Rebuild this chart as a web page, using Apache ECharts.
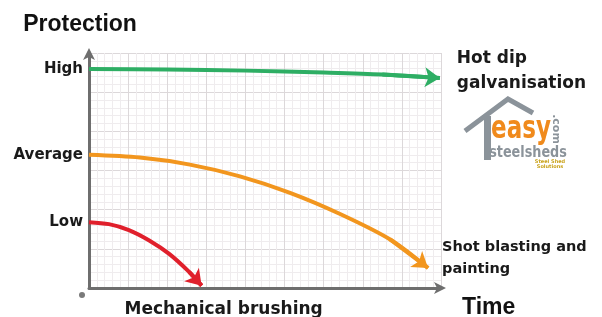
<!DOCTYPE html>
<html>
<head>
<meta charset="utf-8">
<script src="https://cdn.jsdelivr.net/npm/echarts@6/dist/echarts.min.js"></script>
<style>
html, body { margin: 0; padding: 0; background: #fff; }
#chart { width: 602px; height: 317px; }
</style>
</head>
<body>
<div id="chart"></div>
<script>
// protection levels shown on the y axis
var levelNames = ['Low', 'Average', 'High'];
var levelValues = [1.68, 3.40, 5.59];

// curves (x = time, y = protection)
var galvX = [0, 2, 4, 6, 7.5, 8.97];
var galvY = [5.59, 5.58, 5.55, 5.5, 5.45, 5.36];
var paintX = [0, 1.30, 2.58, 3.86, 5.14, 6.42, 7.70, 8.67];
var paintY = [3.40, 3.33, 3.15, 2.85, 2.43, 1.89, 1.24, 0.51];
var brushX = [0, 0.51, 1.02, 1.53, 2.05, 2.56, 2.88];
var brushY = [1.68, 1.63, 1.48, 1.22, 0.87, 0.41, 0.06];

var curveNames = ['Hot dip\ngalvanisation', 'Shot blasting and\npainting', 'Mechanical brushing'];
var curveColors = ['#2eae64', '#f2961e', '#e0202c'];

var labelFont = 'DejaVu Sans';

function pairs(xs, ys) {
  return xs.map(function (x, i) { return [x, ys[i]]; });
}

// smooth curve + arrow head on the last segment
function curve(xs, ys, name, color, endLabel) {
  var pts = pairs(xs, ys);
  var n = pts.length;
  return [{
    type: 'line',
    name: name,
    data: pts,
    smooth: 0.3,
    showSymbol: false,
    lineStyle: { color: color, width: 4 },
    endLabel: endLabel,
    z: 3
  }, {
    type: 'lines',
    coordinateSystem: 'cartesian2d',
    symbol: ['none', 'arrow'],
    symbolSize: [13, 15],
    lineStyle: { color: color, width: 4, opacity: 1 },
    data: [{ coords: [pts[n - 2], pts[n - 1]] }],
    silent: true,
    z: 3
  }];
}

var chart = echarts.init(document.getElementById('chart'));

var series = [].concat(
  curve(galvX, galvY, curveNames[0], curveColors[0], {
    show: true, formatter: curveNames[0], offset: [9, -7],
    fontFamily: labelFont, fontWeight: 'bold', fontSize: 17, lineHeight: 25, color: '#1a1a1a'
  }),
  curve(paintX, paintY, curveNames[1], curveColors[1], {
    show: true, formatter: curveNames[1], offset: [6, -10],
    fontFamily: labelFont, fontWeight: 'bold', fontSize: 14.5, lineHeight: 22, color: '#1a1a1a'
  }),
  curve(brushX, brushY, curveNames[2], curveColors[2], {
    show: true, formatter: curveNames[2], offset: [14, 24], align: 'center',
    fontFamily: labelFont, fontWeight: 'bold', fontSize: 17, color: '#1a1a1a'
  })
);

var option = {
  animation: false,
  backgroundColor: '#ffffff',
  grid: { left: 89, right: 161, top: 53, bottom: 29, containLabel: false, outerBoundsMode: 'none' },
  xAxis: {
    type: 'value',
    min: 0, max: 9, interval: 1,
    name: 'Time',
    nameLocation: 'end',
    nameGap: 21,
    nameTextStyle: {
      fontFamily: 'Liberation Sans', fontWeight: 'bold', fontSize: 23, color: '#111',
      align: 'left', verticalAlign: 'top', lineHeight: 40
    },
    axisLine: {
      show: true, symbol: ['none', 'arrow'], symbolSize: [9, 12], symbolOffset: [0, 5],
      lineStyle: { color: '#6e6e6e', width: 3 }
    },
    axisTick: { show: false },
    axisLabel: { show: false },
    splitLine: { show: true, lineStyle: { color: '#dcd8da', width: 1 } },
    minorTick: { show: false, splitNumber: 5 },
    minorSplitLine: { show: true, lineStyle: { color: '#efecee', width: 1 } }
  },
  yAxis: {
    type: 'value',
    min: 0, max: 6, interval: 1,
    name: 'Protection',
    nameLocation: 'end',
    nameGap: 17,
    nameTextStyle: {
      fontFamily: 'Liberation Sans', fontWeight: 'bold', fontSize: 23, color: '#111',
      align: 'center', padding: [0, 18, 0, 0]
    },
    axisLine: {
      show: true, symbol: ['none', 'arrow'], symbolSize: [9, 12], symbolOffset: [0, 5],
      lineStyle: { color: '#6e6e6e', width: 3 }
    },
    axisTick: { show: false },
    axisLabel: {
      show: true,
      customValues: levelValues,
      margin: 6,
      fontFamily: labelFont, fontWeight: 'bold', fontSize: 15, color: '#1a1a1a',
      padding: [0, 0, 9, 0],
      formatter: function (v) {
        var best = 0;
        levelValues.forEach(function (lv, i) {
          if (Math.abs(lv - v) < Math.abs(levelValues[best] - v)) best = i;
        });
        return levelNames[best];
      }
    },
    splitLine: { show: true, lineStyle: { color: '#dcd8da', width: 1 } },
    minorTick: { show: false, splitNumber: 5 },
    minorSplitLine: { show: true, lineStyle: { color: '#efecee', width: 1 } }
  },
  series: series,
  graphic: [
    // origin dot
    { type: 'circle', shape: { cx: 82, cy: 295, r: 3 }, style: { fill: '#7a7a7a' } },
    // logo
    { type: 'polyline', shape: { points: [[465, 131], [508, 99], [533, 113]] },
      style: { stroke: '#8b939a', lineWidth: 5, fill: null } },
    { type: 'rect', shape: { x: 484, y: 116, width: 7, height: 44 }, style: { fill: '#8b939a' } },
    { type: 'text', x: 521, y: 130, scaleX: 0.72, style: {
      text: 'easy', fill: '#f08a1c', font: 'bold 32px "DejaVu Sans"',
      align: 'center', verticalAlign: 'middle' } },
    { type: 'text', x: 528, y: 153, scaleX: 0.8, style: {
      text: 'steelsheds', fill: '#8b939a', font: 'bold 16px "DejaVu Sans"',
      align: 'center', verticalAlign: 'middle' } },
    { type: 'text', x: 556, y: 129, rotation: -Math.PI / 2, style: {
      text: '.com', fill: '#8b939a', font: 'bold 11px "DejaVu Sans"',
      align: 'center', verticalAlign: 'middle' } },
    { type: 'text', x: 550, y: 164, style: {
      text: 'Steel Shed\nSolutions', fill: '#c9a21a', font: 'bold 5px "DejaVu Sans"', lineHeight: 5,
      align: 'center', verticalAlign: 'middle' } }
  ]
};

chart.setOption(option);
</script>
</body>
</html>
